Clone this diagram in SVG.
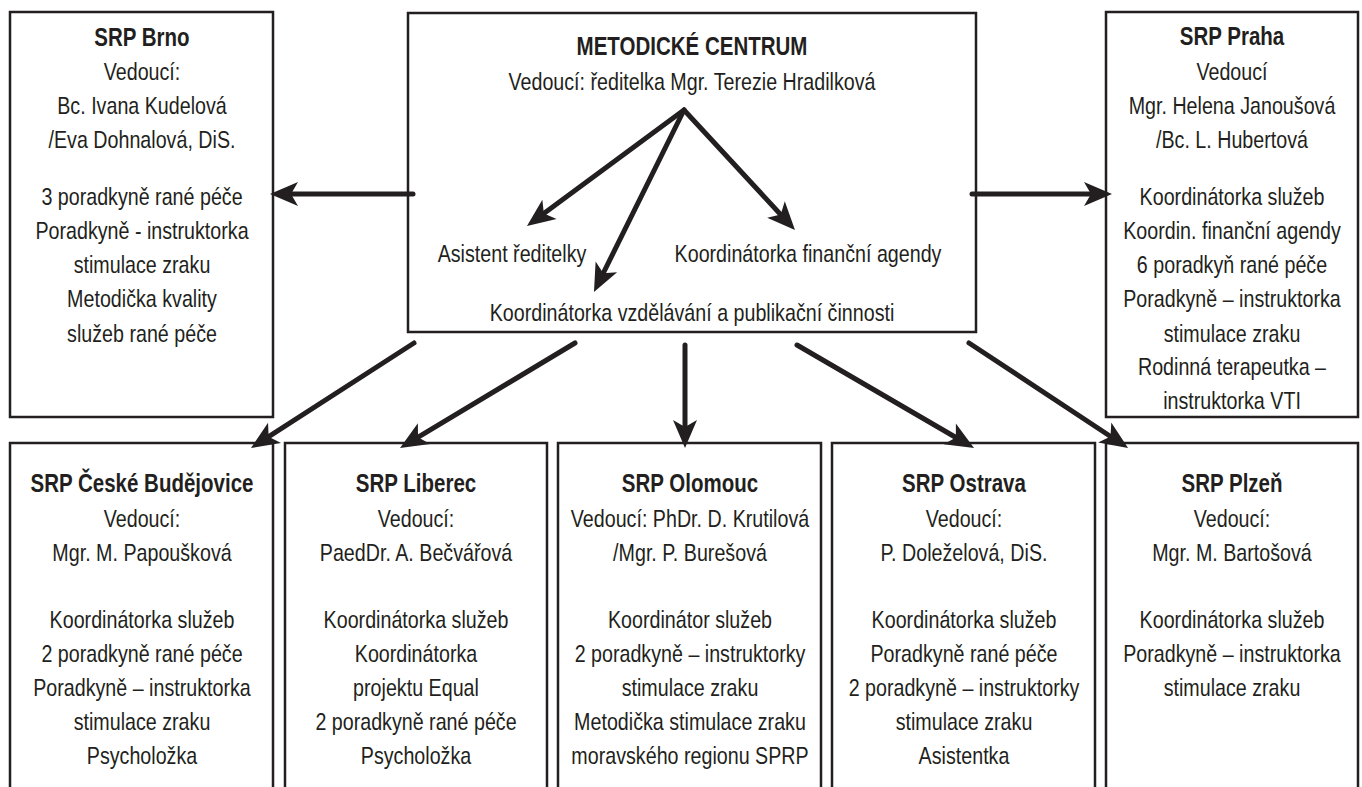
<svg xmlns="http://www.w3.org/2000/svg" width="1362" height="787" viewBox="0 0 1362 787">
<defs>
<style>
.box{fill:#fff;stroke:#231f20;stroke-width:2.5}
text{font-family:"Liberation Sans Narrow","Liberation Sans",Arial,sans-serif;font-size:24px;fill:#231f20;text-anchor:middle}
.t{font-weight:bold;font-size:25px}
.c{fill:none;stroke:#231f20;stroke-width:5;stroke-linecap:round;marker-end:url(#ah)}
</style>
<marker id="ah" markerUnits="userSpaceOnUse" markerWidth="30" markerHeight="26" refX="18" refY="12" orient="auto" overflow="visible">
<path d="M28,12 L0,0 L7,12 L0,24 Z" fill="#231f20"/>
</marker>
</defs>
<rect width="1362" height="787" fill="#fff"/>
<g id="brno">
<rect class="box" x="10" y="12" width="263" height="405"/>
<g transform="translate(142 0) scale(0.82 1)">
<text x="0" y="46" class="t">SRP Brno</text>
<text x="0" y="80">Vedoucí:</text>
<text x="0" y="114">Bc. Ivana Kudelová</text>
<text x="0" y="148">/Eva Dohnalová, DiS.</text>
<text x="0" y="205">3 poradkyně rané péče</text>
<text x="0" y="239">Poradkyně - instruktorka</text>
<text x="0" y="273">stimulace zraku</text>
<text x="0" y="307">Metodička kvality</text>
<text x="0" y="342">služeb rané péče</text>
</g>
</g>
<g id="metodicke">
<rect class="box" x="408" y="13" width="568" height="319"/>
<g transform="translate(692 0) scale(0.82 1)">
<text x="0" y="55" class="t">METODICKÉ CENTRUM</text>
<text x="0" y="90">Vedoucí: ředitelka Mgr. Terezie Hradilková</text>
<text x="0" y="321">Koordinátorka vzdělávání a publikační činnosti</text>
</g>
<g transform="translate(512 0) scale(0.82 1)">
<text x="0" y="262">Asistent ředitelky</text>
</g>
<g transform="translate(808 0) scale(0.82 1)">
<text x="0" y="262">Koordinátorka finanční agendy</text>
</g>
</g>
<g id="praha">
<rect class="box" x="1106" y="12" width="252" height="405"/>
<g transform="translate(1232 0) scale(0.82 1)">
<text x="0" y="45" class="t">SRP Praha</text>
<text x="0" y="80">Vedoucí</text>
<text x="0" y="114">Mgr. Helena Janoušová</text>
<text x="0" y="148">/Bc. L. Hubertová</text>
<text x="0" y="205">Koordinátorka služeb</text>
<text x="0" y="239">Koordin. finanční agendy</text>
<text x="0" y="273">6 poradkyň rané péče</text>
<text x="0" y="307">Poradkyně – instruktorka</text>
<text x="0" y="342">stimulace zraku</text>
<text x="0" y="375">Rodinná terapeutka –</text>
<text x="0" y="409">instruktorka VTI</text>
</g>
</g>
<g id="budejovice">
<rect class="box" x="10" y="443" width="263" height="360"/>
<g transform="translate(142 0) scale(0.82 1)">
<text x="0" y="492" class="t">SRP České Budějovice</text>
<text x="0" y="527">Vedoucí:</text>
<text x="0" y="561">Mgr. M. Papoušková</text>
<text x="0" y="628">Koordinátorka služeb</text>
<text x="0" y="662">2 poradkyně rané péče</text>
<text x="0" y="696">Poradkyně – instruktorka</text>
<text x="0" y="730">stimulace zraku</text>
<text x="0" y="764">Psycholožka</text>
</g>
</g>
<g id="liberec">
<rect class="box" x="285" y="443" width="262" height="360"/>
<g transform="translate(416 0) scale(0.82 1)">
<text x="0" y="492" class="t">SRP Liberec</text>
<text x="0" y="527">Vedoucí:</text>
<text x="0" y="561">PaedDr. A. Bečvářová</text>
<text x="0" y="628">Koordinátorka služeb</text>
<text x="0" y="662">Koordinátorka</text>
<text x="0" y="696">projektu Equal</text>
<text x="0" y="730">2 poradkyně rané péče</text>
<text x="0" y="764">Psycholožka</text>
</g>
</g>
<g id="olomouc">
<rect class="box" x="558" y="443" width="263" height="360"/>
<g transform="translate(690 0) scale(0.82 1)">
<text x="0" y="492" class="t">SRP Olomouc</text>
<text x="0" y="527">Vedoucí: PhDr. D. Krutilová</text>
<text x="0" y="561">/Mgr. P. Burešová</text>
<text x="0" y="628">Koordinátor služeb</text>
<text x="0" y="662">2 poradkyně – instruktorky</text>
<text x="0" y="696">stimulace zraku</text>
<text x="0" y="730">Metodička stimulace zraku</text>
<text x="0" y="764">moravského regionu SPRP</text>
</g>
</g>
<g id="ostrava">
<rect class="box" x="832" y="443" width="263" height="360"/>
<g transform="translate(964 0) scale(0.82 1)">
<text x="0" y="492" class="t">SRP Ostrava</text>
<text x="0" y="527">Vedoucí:</text>
<text x="0" y="561">P. Doleželová, DiS.</text>
<text x="0" y="628">Koordinátorka služeb</text>
<text x="0" y="662">Poradkyně rané péče</text>
<text x="0" y="696">2 poradkyně – instruktorky</text>
<text x="0" y="730">stimulace zraku</text>
<text x="0" y="764">Asistentka</text>
</g>
</g>
<g id="plzen">
<rect class="box" x="1106" y="443" width="252" height="360"/>
<g transform="translate(1232 0) scale(0.82 1)">
<text x="0" y="492" class="t">SRP Plzeň</text>
<text x="0" y="527">Vedoucí:</text>
<text x="0" y="561">Mgr. M. Bartošová</text>
<text x="0" y="628">Koordinátorka služeb</text>
<text x="0" y="662">Poradkyně – instruktorka</text>
<text x="0" y="696">stimulace zraku</text>
</g>
</g>
<g id="connectors">
<line class="c" x1="413" y1="194" x2="280" y2="194"/>
<line class="c" x1="972" y1="194" x2="1102" y2="194"/>
<line class="c" x1="684" y1="110" x2="535" y2="220"/>
<line class="c" x1="684" y1="110" x2="598.4" y2="283"/>
<line class="c" x1="684" y1="110" x2="788.2" y2="222.7"/>
<line class="c" x1="414" y1="343" x2="259.4" y2="442.6"/>
<line class="c" x1="575" y1="343" x2="408.6" y2="442.9"/>
<line class="c" x1="685" y1="345" x2="685" y2="438"/>
<line class="c" x1="797" y1="345" x2="965.4" y2="443"/>
<line class="c" x1="969" y1="343" x2="1119.7" y2="442.5"/>
</g>
</svg>
